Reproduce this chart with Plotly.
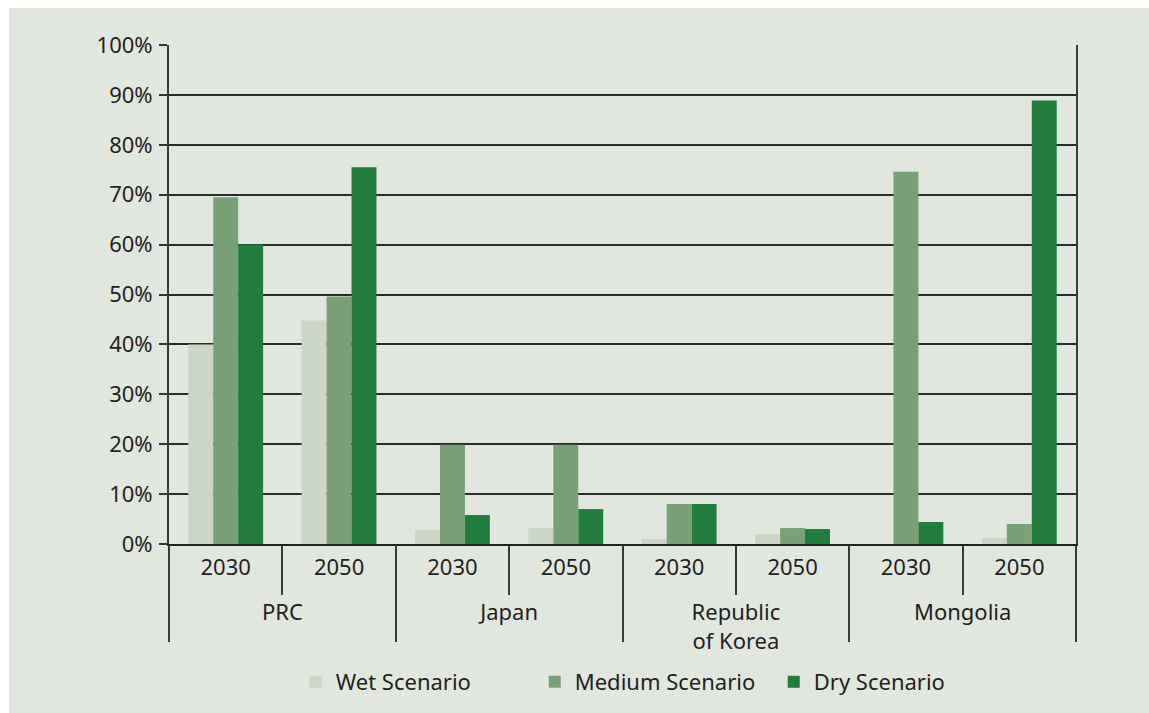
import plotly.graph_objects as go

countries = ["PRC", "PRC", "Japan", "Japan", "Republic<br>of Korea", "Republic<br>of Korea", "Mongolia", "Mongolia"]
years = ["2030", "2050", "2030", "2050", "2030", "2050", "2030", "2050"]

wet = [40.0, 44.8, 2.8, 3.2, 1.0, 2.0, 0.0, 1.2]
medium = [69.5, 49.6, 19.9, 19.9, 8.0, 3.2, 74.6, 4.0]
dry = [60.0, 75.5, 5.8, 7.0, 8.0, 3.0, 4.4, 88.9]

series = [
    ("Wet Scenario", wet, "#cbd6c7"),
    ("Medium Scenario", medium, "#7aa078"),
    ("Dry Scenario", dry, "#217c3e"),
]

y_ticks = list(range(0, 101, 10))
y_labels = [f"{v}%" for v in y_ticks]

# category keys (unique) built from the country/year lists
x_keys = [f"{c} {y}" for c, y in zip(countries, years)]
country_groups = list(dict.fromkeys(countries))

FONT = "Noto Sans"
TXT = "#231f20"
BG = "#e1e6df"
LINE = "#3a3a3a"

fig = go.Figure()
for name, vals, col in series:
    fig.add_trace(go.Bar(
        x=x_keys, y=vals, name=name,
        marker=dict(color=col, line=dict(width=0)),
    ))

# invisible helper trace that carries the country-level axis
fig.add_trace(go.Scatter(
    x=country_groups, y=[0] * len(country_groups), xaxis="x2",
    mode="markers", marker=dict(opacity=0), showlegend=False, hoverinfo="skip",
))

fig.update_layout(
    width=1140, height=705,
    margin=dict(l=160, r=73, t=37, b=169),
    paper_bgcolor=BG, plot_bgcolor=BG,
    barmode="group", bargap=0.34, bargroupgap=0,
    font=dict(family=FONT, size=22, color=TXT),
    showlegend=True,
    legend=dict(
        orientation="h", x=0.535, xanchor="center",
        yref="container", y=0.044, yanchor="middle",
        font=dict(family=FONT, size=22, color=TXT),
        bgcolor="rgba(0,0,0,0)", entrywidth=194,
    ),
    xaxis=dict(
        type="category", range=[-0.5, len(x_keys) - 0.5],
        tickvals=x_keys, ticktext=years,
        showline=True, linecolor="#222222", linewidth=2,
        ticks="outside", tickson="boundaries", ticklen=49,
        tickcolor=LINE, tickwidth=2,
        ticklabelstandoff=3,
        tickfont=dict(family=FONT, size=22, color=TXT),
        showgrid=False, automargin=False, fixedrange=True,
    ),
    xaxis2=dict(
        type="category", overlaying="x", side="bottom", anchor="y",
        range=[-0.5, len(country_groups) - 0.5],
        categoryorder="array", categoryarray=country_groups,
        ticks="outside", tickson="boundaries", ticklen=97,
        tickcolor=LINE, tickwidth=2,
        ticklabelstandoff=53,
        tickfont=dict(family=FONT, size=22, color=TXT),
        showgrid=False, showline=False, zeroline=False, automargin=False,
    ),
    yaxis=dict(
        range=[0, 100], tickvals=y_ticks, ticktext=y_labels,
        showgrid=True, gridcolor="#2b2b2b", gridwidth=1.6,
        showline=True, linecolor=LINE, linewidth=2, mirror=True,
        ticks="outside", ticklen=8, tickcolor="#333333", tickwidth=1.5,
        ticklabelstandoff=2, zeroline=False, automargin=False,
        tickfont=dict(family=FONT, size=22, color=TXT),
    ),
)

fig.write_html(
    "out.html",
    post_script="document.body.style.margin='8px 0 0 9px';document.body.style.overflow='hidden';",
)
